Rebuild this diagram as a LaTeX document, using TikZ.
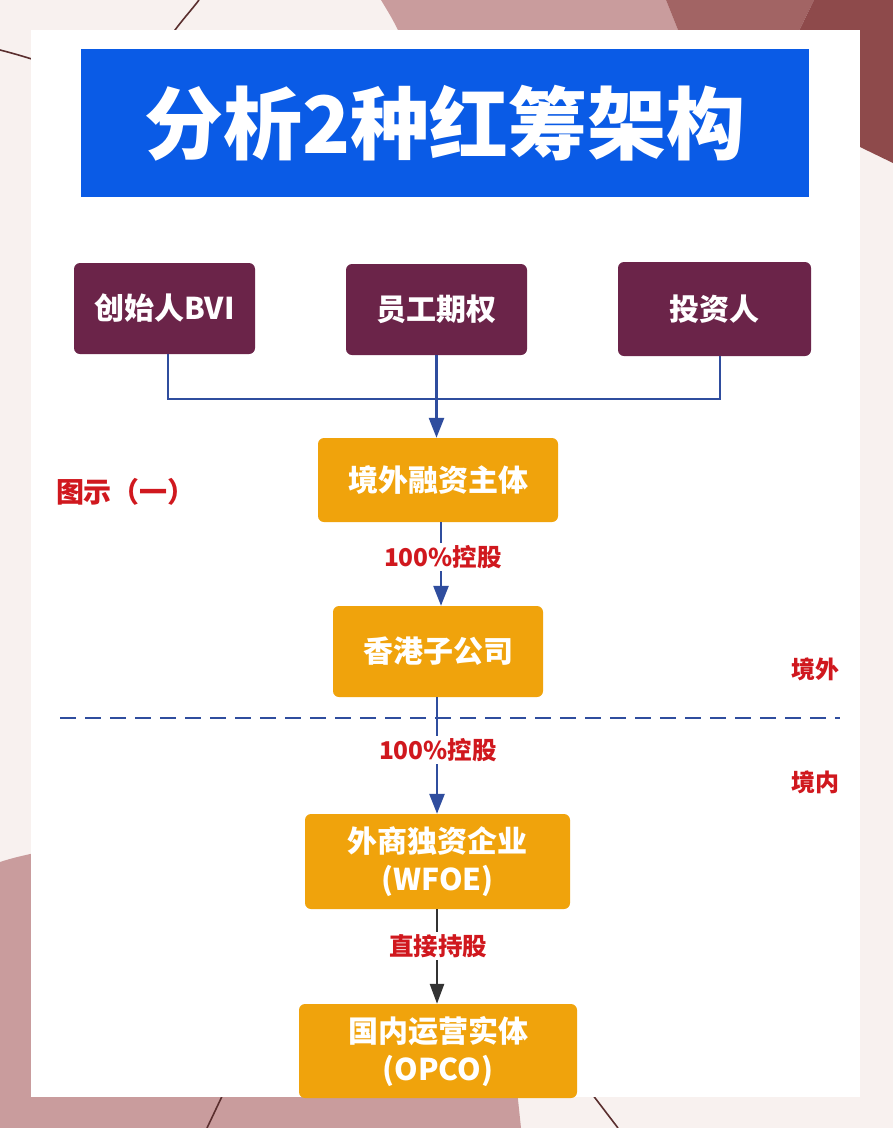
\documentclass[tikz,border=0pt]{standalone}
\usepackage{fontspec}
\setmainfont{Noto Sans CJK SC}
\usetikzlibrary{arrows.meta}
\definecolor{bgc}{HTML}{F8F1EF}
\definecolor{pinkc}{HTML}{C99C9D}
\definecolor{midc}{HTML}{A26464}
\definecolor{darkc}{HTML}{8E4A4B}
\definecolor{linec}{HTML}{5A2E2E}
\definecolor{titleblue}{HTML}{0A5BE6}
\definecolor{purplebox}{HTML}{6B2449}
\definecolor{orangebox}{HTML}{F0A30C}
\definecolor{conblue}{HTML}{2F4D9E}
\definecolor{labred}{HTML}{D0181E}
\definecolor{condark}{HTML}{333333}
\tikzset{
  topbox/.style={fill=purplebox, rounded corners=6pt, text=white, font=\fontsize{30}{36}\selectfont\bfseries, inner sep=0pt, align=center},
  orgbox/.style={fill=orangebox, rounded corners=6pt, text=white, font=\fontsize{30}{38}\selectfont\bfseries, inner sep=0pt, align=center},
  conn/.style={draw=conblue, line width=2.6pt},
  arr/.style={conn, -{Triangle[length=20pt,width=15pt]}},
  darkarr/.style={draw=condark, line width=2.6pt, -{Triangle[length=20pt,width=14pt]}},
  lab/.style={text=labred, font=\fontsize{24.5}{28}\selectfont\bfseries, fill=white, inner sep=2pt},
  side/.style={text=labred, font=\fontsize{24}{28}\selectfont\bfseries, inner sep=0pt},
  deco/.style={draw=linec, line width=1.6pt}
}
\begin{document}
\begin{tikzpicture}[x=1pt,y=-1pt]
\useasboundingbox (0,0) rectangle (893,1128);
% background
\fill[bgc] (0,0) rectangle (893,1128);
\fill[pinkc] (381,0) -- (666,0) -- (690,60) -- (410,60) .. controls (400,30) and (390,15) .. cycle;
\fill[midc] (666,0) -- (814,0) -- (785,60) -- (690,60) -- cycle;
\fill[darkc] (814,0) -- (893,0) -- (893,163) -- (860,147) -- (830,140) -- (785,60) -- cycle;
\draw[deco] (199,0) .. controls (190,12) and (180,22) .. (168,40);
\draw[deco] (0,50) .. controls (12,53) and (22,56) .. (35,60);
\fill[pinkc] (0,862) .. controls (12,858) and (25,855) .. (40,852) -- (40,1128) -- (521,1128) -- (517,1090) -- (40,1090) -- (0,1090) -- cycle;
\fill[pinkc] (0,862) rectangle (40,1128);
\draw[deco] (225,1090) -- (207,1128);
\draw[deco] (589,1090) -- (618,1128);
% panel
\fill[white] (31,30) rectangle (860,1097);
% title
\node[fill=titleblue, minimum width=728pt, minimum height=148pt, inner sep=0pt, text=white, font=\fontsize{79}{90}\selectfont\bfseries] (title) at (445,123) {分析2种红筹架构};
% top boxes
\node[topbox, minimum width=181pt, minimum height=91pt] (f) at (164.5,308.5) {创始人BVI};
\node[topbox, minimum width=181pt, minimum height=91pt] (e) at (436.5,309.5) {员工期权};
\node[topbox, minimum width=193pt, minimum height=94pt] (i) at (714.5,309) {投资人};
% orange boxes
\node[orgbox, minimum width=240pt, minimum height=84pt] (o) at (438,480) {境外融资主体};
\node[orgbox, minimum width=210pt, minimum height=91pt] (h) at (438,651.5) {香港子公司};
\node[orgbox, minimum width=265pt, minimum height=95pt] (w) at (437.5,861.5) {外商独资企业\\(WFOE)};
\node[orgbox, minimum width=278pt, minimum height=94pt] (p) at (438,1051) {国内运营实体\\(OPCO)};
% connectors top
\coordinate (j) at (437,399);
\draw[conn] (f.south -| 168,0) |- (j) -| (i.south -| 720,0);
\draw[arr] (e.south) -- (e.south |- o.north);
% dashed boundary
\coordinate (dl) at (60,718);
\coordinate (dr) at (840,718);
\draw[draw=conblue, line width=2.6pt, dash pattern=on 16pt off 9pt] (dl) -- (dr);
% arrows down
\draw[arr] (o.south -| 441,0) -- (h.north -| 441,0);
\draw[arr] (h.south -| 437,0) -- (w.north -| 437,0);
\draw[darkarr] (w.south -| 437,0) -- (p.north -| 437,0);
% labels
\node[lab] (l1) at (443,557) {100\%控股};
\node[lab] (l2) at (438,750) {100\%控股};
\node[lab] (l3) at (438,946) {直接持股};
% side labels
\node[side, font=\fontsize{28}{32}\selectfont\bfseries] (g) at (126,492) {图示（一）};
\node[side] (sw) at (815,669) {境外};
\node[side] (sn) at (815,782) {境内};
\end{tikzpicture}
\end{document}
